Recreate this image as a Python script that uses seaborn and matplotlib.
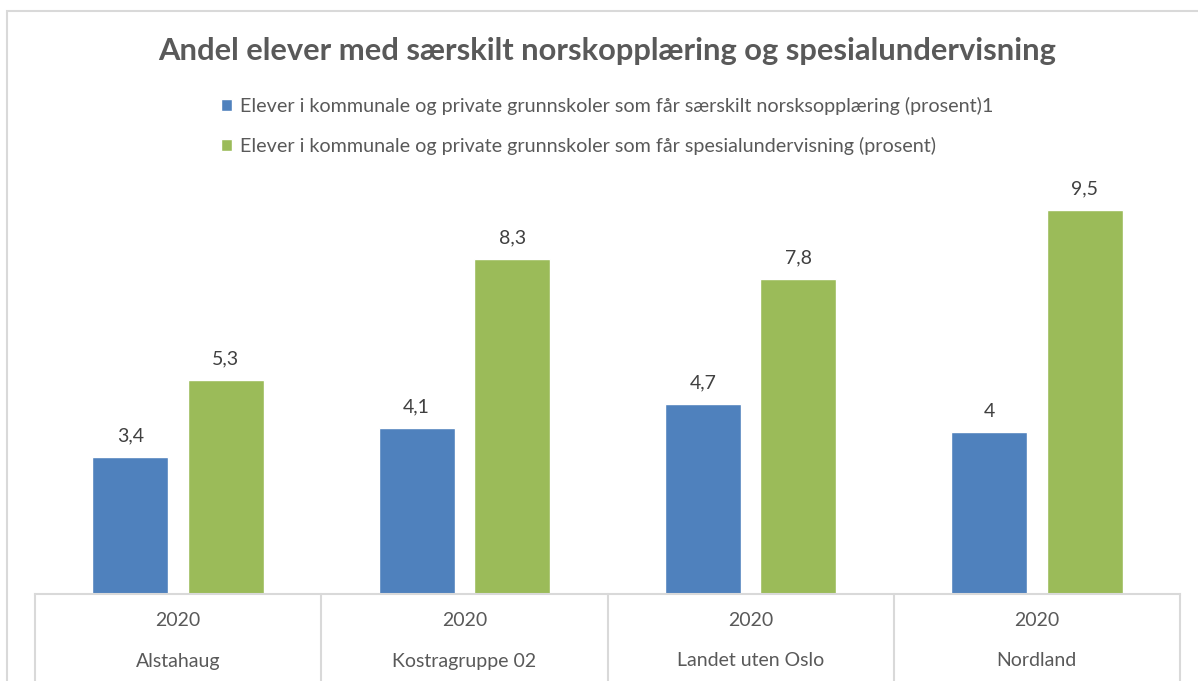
import matplotlib
matplotlib.use("Agg")
import matplotlib.pyplot as plt
import matplotlib.transforms as mtransforms
from matplotlib.patches import Rectangle
import pandas as pd
import seaborn as sns

# --- data ---
regions = ["Alstahaug", "Kostragruppe 02", "Landet uten Oslo", "Nordland"]
years = ["2020", "2020", "2020", "2020"]
norsk = [3.4, 4.1, 4.7, 4.0]
spesial = [5.3, 8.3, 7.8, 9.5]
series_names = [
    "Elever i kommunale og private grunnskoler som får særskilt norsksopplæring (prosent)1",
    "Elever i kommunale og private grunnskoler som får spesialundervisning (prosent)",
]
title = "Andel elever med særskilt norskopplæring og spesialundervisning"

df = pd.DataFrame({
    "region": regions * 2,
    "value": norsk + spesial,
    "series": [series_names[0]] * 4 + [series_names[1]] * 4,
})

BLUE = "#4F81BD"
GREEN = "#9BBB59"
GRID = "#D9D9D9"
TEXT = "#595959"

sns.set_style("white")
plt.rcParams["font.family"] = ["Lato", "DejaVu Sans"]

W, H = 1198, 681
fig = plt.figure(figsize=(W / 100, H / 100), dpi=100)

# plot area in pixel units
left, right, top, base = 35, 1180, 175, 594
ax = fig.add_axes([left / W, 1 - base / H, (right - left) / W, (base - top) / H])

sns.barplot(data=df, x="region", y="value", hue="series",
            palette=[BLUE, GREEN], saturation=1, width=0.667, gap=0.204,
            ax=ax, legend=True, errorbar=None)

ax.set_xlim(-0.5, 3.5)
ax.set_ylim(0, (base - top) / 40.4)
ax.set_xlabel("")
ax.set_ylabel("")
ax.set_yticks([])
ax.set_xticks([])
for s in ["top", "left", "right"]:
    ax.spines[s].set_visible(False)
ax.spines["bottom"].set_color(GRID)
ax.spines["bottom"].set_linewidth(1.5)

# data labels
for cont in ax.containers:
    ax.bar_label(cont, fmt=lambda v: f"{v:g}".replace(".", ","),
                 padding=9, fontsize=14, color="#404040")

# two-level category axis
trans = mtransforms.blended_transform_factory(ax.transData, ax.transAxes)
ax_h = base - top
drop = (H - base) / ax_h
for b in [-0.5, 0.5, 1.5, 2.5, 3.5]:
    ax.plot([b, b], [0, -drop], transform=trans, color=GRID, lw=1.5,
            clip_on=False)
for i, (yr, rg) in enumerate(zip(years, regions)):
    ax.text(i, -(620 - base) / ax_h, yr, transform=trans, ha="center",
            va="center", fontsize=14, color=TEXT)
    ax.text(i, -(661 - base) / ax_h, rg, transform=trans, ha="center",
            va="center", fontsize=14, color=TEXT)

# legend
handles, labels = ax.get_legend_handles_labels()
ax.legend(handles, labels, loc="upper left",
          bbox_to_anchor=(221 / W, 1 - 97 / H), bbox_transform=fig.transFigure,
          frameon=False, fontsize=14.2, labelcolor=TEXT,
          handlelength=0.55, handleheight=0.55, handletextpad=0.4,
          labelspacing=1.12, borderaxespad=0, borderpad=0)

fig.text(607 / W, 1 - 51 / H, title, ha="center", va="center",
         fontsize=22.2, fontweight="bold", color=TEXT)

# outer chart border
fig.patches.append(Rectangle((7 / W, -0.05), 1.2, 1 - 11 / H + 0.05,
                             transform=fig.transFigure, fill=False,
                             edgecolor=GRID, lw=1.5))

fig.savefig("out.png", dpi=100)
